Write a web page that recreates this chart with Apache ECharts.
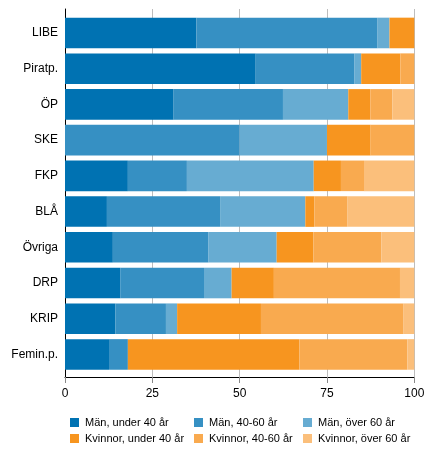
<!DOCTYPE html>
<html>
<head>
<meta charset="utf-8">
<script src="https://cdn.jsdelivr.net/npm/echarts@6.0.0/dist/echarts.min.js"></script>
<style>
  html, body { margin: 0; padding: 0; background: #fff; }
  #chart { width: 435px; height: 454px; }
</style>
</head>
<body>
<div id="chart"></div>
<script>
const categories = ['LIBE', 'Piratp.', 'ÖP', 'SKE', 'FKP', 'BLÅ', 'Övriga', 'DRP', 'KRIP', 'Femin.p.'];
const xTicks = [0, 25, 50, 75, 100];

const menUnder40 = [37.6, 54.6, 31.1, 0, 18.0, 12.0, 13.7, 15.8, 14.4, 12.6];
const men40to60 = [51.9, 28.3, 31.3, 50.0, 16.9, 32.4, 27.4, 24.0, 14.5, 5.4];
const menOver60 = [3.4, 1.9, 18.7, 25.0, 36.3, 24.4, 19.5, 7.9, 3.2, 0];
const womenUnder40 = [7.1, 11.2, 6.3, 12.5, 7.8, 2.6, 10.5, 12.1, 24.0, 49.1];
const women40to60 = [0, 4.0, 6.3, 12.5, 6.6, 9.5, 19.5, 36.1, 40.7, 30.9];
const womenOver60 = [0, 0, 6.3, 0, 14.4, 19.1, 9.4, 4.1, 3.2, 2.0];

const seriesDefs = [
  { name: 'Män, under 40 år', data: menUnder40, color: '#0072b2' },
  { name: 'Män, 40-60 år', data: men40to60, color: '#3690c3' },
  { name: 'Män, över 60 år', data: menOver60, color: '#67acd2' },
  { name: 'Kvinnor, under 40 år', data: womenUnder40, color: '#f7951f' },
  { name: 'Kvinnor, 40-60 år', data: women40to60, color: '#f9aa4f' },
  { name: 'Kvinnor, över 60 år', data: womenOver60, color: '#fbbf7b' }
];

const FONT = '"Liberation Sans", Arial, sans-serif';
const chart = echarts.init(document.getElementById('chart'), null, { renderer: 'canvas' });

// three legend columns, two rows each (men on top, women below)
const legendCols = [70, 194, 303].map((left, i) => ({
  orient: 'vertical',
  left,
  top: 417,
  icon: 'rect',
  itemWidth: 9,
  itemHeight: 9,
  itemGap: 5,
  padding: 0,
  textStyle: { fontFamily: FONT, fontSize: 11, color: '#000', padding: [0, 0, 0, 1] },
  data: [seriesDefs[i].name, seriesDefs[i + 3].name]
}));

chart.setOption({
  animation: false,
  backgroundColor: '#fff',
  textStyle: { fontFamily: FONT },
  legend: legendCols,
  grid: [
    { left: 65, right: 20.7, top: 15.1, height: 357.2, containLabel: false },
    { left: 65, right: 20.7, top: 9, height: 368, containLabel: false }
  ],
  xAxis: [
    { gridIndex: 0, type: 'value', min: 0, max: 100, show: false },
    {
      gridIndex: 1,
      type: 'value',
      min: 0,
      max: 100,
      interval: 25,
      axisLine: { show: true, lineStyle: { color: '#000', width: 1 } },
      axisTick: { show: true, length: 6, lineStyle: { color: '#888' } },
      axisLabel: {
        color: '#000',
        fontSize: 12,
        margin: 11,
        formatter: (v) => (xTicks.includes(v) ? String(v) : '')
      },
      splitLine: { show: true, lineStyle: { color: '#bdbdbd', width: 1 } }
    }
  ],
  yAxis: [
    {
      gridIndex: 0,
      type: 'category',
      data: categories,
      inverse: true,
      axisLine: { show: false },
      axisTick: { show: false },
      axisLabel: { color: '#000', fontSize: 12, margin: 7 }
    },
    {
      gridIndex: 1,
      type: 'value',
      min: 0,
      max: 1,
      axisLine: { show: true, lineStyle: { color: '#000', width: 1 } },
      axisTick: { show: false },
      axisLabel: { show: false },
      splitLine: { show: false }
    }
  ],
  series: seriesDefs.map((s) => ({
    name: s.name,
    type: 'bar',
    stack: 'total',
    xAxisIndex: 0,
    yAxisIndex: 0,
    barWidth: 30.6,
    itemStyle: { color: s.color },
    emphasis: { disabled: true },
    data: s.data
  }))
});
</script>
</body>
</html>
